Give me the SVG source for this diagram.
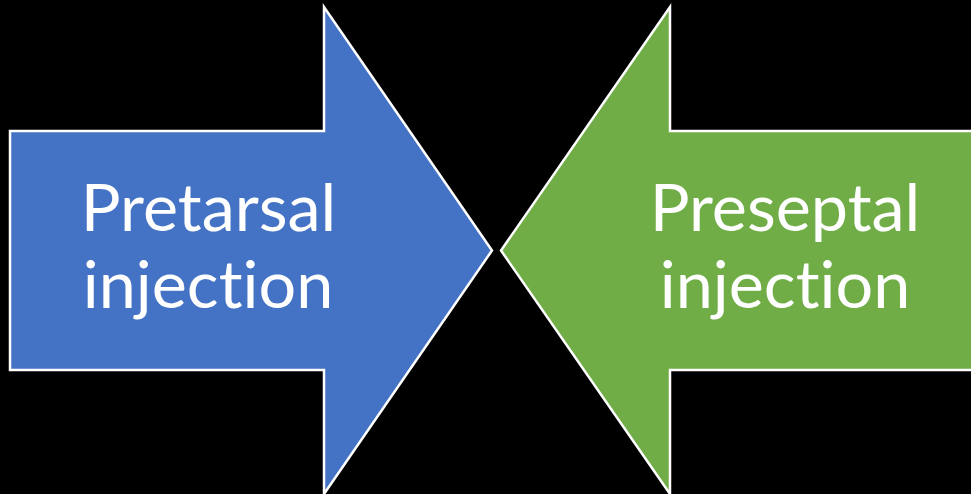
<svg xmlns="http://www.w3.org/2000/svg" width="971" height="494" viewBox="0 0 971 494">
<style>
.arrow{stroke:#FFFFFF;stroke-width:2.5;stroke-linejoin:miter}
.blue{fill:#4472C4}
.green{fill:#70AD47}
.lbl{font-family:Lato,"Open Sans","Liberation Sans",sans-serif;font-size:66.5px;fill:#FFFFFF;text-anchor:middle;font-variant-ligatures:none;font-feature-settings:"liga" 0,"dlig" 0}
</style>
<rect x="0" y="0" width="971" height="494" fill="#000000"/>
<g id="pretarsal">
<polygon class="arrow blue" points="10,131 324,131 324,7 492,250.5 324,494 324,370 10,370"/>
<text class="lbl" x="208.5" y="231">Pretarsal</text>
<text class="lbl" x="208" y="308">injection</text>
</g>
<g id="preseptal">
<polygon class="arrow green" points="990,131 670,131 670,7 501,250.5 670,494 670,370 990,370"/>
<text class="lbl" x="785" y="231">Preseptal</text>
<text class="lbl" x="785" y="308">injection</text>
</g>
<g id="connectors"></g>
</svg>
